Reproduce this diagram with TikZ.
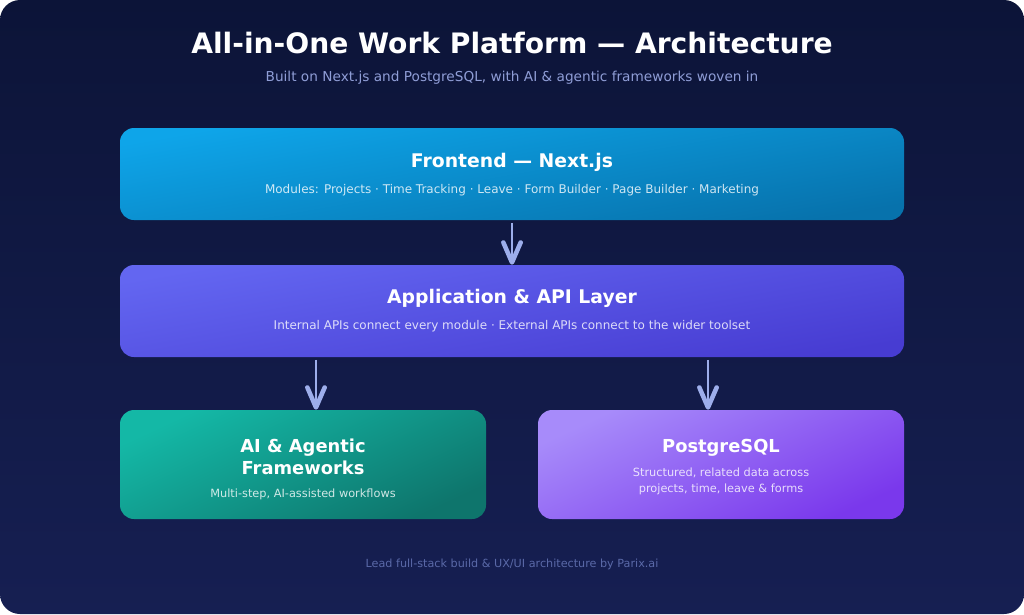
\documentclass[tikz,border=0pt]{standalone}
\usepackage{fontspec}
\setmainfont{DejaVu Sans}
\usetikzlibrary{arrows.meta}

\begin{document}
\begin{tikzpicture}[x=0.75pt, y=-0.75pt,
    layer/.style={rectangle, rounded corners=10.5pt, inner sep=0pt,
        minimum width=588pt, minimum height=69pt},
    half/.style={layer, minimum width=274.5pt, minimum height=81.75pt},
    ttl/.style={anchor=base, text=white, font=\bfseries\fontsize{14.1}{17}\selectfont},
    smallttl/.style={ttl, font=\bfseries\fontsize{13.4}{16}\selectfont},
    sub/.style={anchor=base, text=white, text opacity=0.8, font=\fontsize{9}{12}\selectfont},
    smallsub/.style={sub, font=\fontsize{8.5}{11}\selectfont},
    flow/.style={draw=arrowcol, line width=1.5pt,
        -{Straight Barb[length=15pt, width=13pt, line width=3.4pt, round]}}
]

% --- colors ---
\definecolor{bgtop}{HTML}{0C1438}
\definecolor{bgbot}{HTML}{161F52}
\definecolor{fronta}{HTML}{0EA5E9}
\definecolor{frontb}{HTML}{0772AC}
\definecolor{apia}{HTML}{6366F1}
\definecolor{apib}{HTML}{473CD2}
\definecolor{aia}{HTML}{14B8A6}
\definecolor{aib}{HTML}{0E756C}
\definecolor{pga}{HTML}{A78BFA}
\definecolor{pgb}{HTML}{7A38EC}
\definecolor{arrowcol}{HTML}{9DAEEB}
\definecolor{subcol}{HTML}{8F9DD6}
\definecolor{footcol}{HTML}{5A69A8}

% --- canvas ---
\fill[white] (0,0) rectangle (1024,614);
\shade[top color=bgtop, bottom color=bgbot, rounded corners=15pt]
    (0,0) rectangle (1024,614);

% --- heading ---
\node[anchor=base, text=white, font=\bfseries\fontsize{21.1}{26}\selectfont]
    (title) at (512,53) {All-in-One Work Platform — Architecture};
\node[anchor=base, text=subcol, font=\fontsize{10.25}{12}\selectfont]
    (subtitle) at (512,81) {Built on Next.js and PostgreSQL, with AI \& agentic frameworks woven in};

% --- layers ---
\node[layer, top color=fronta, bottom color=frontb, shading angle=10]
    (front) at (512,174) {};
\node[layer, top color=apia, bottom color=apib, shading angle=10]
    (api) at (512,311) {};
\node[half, top color=aia, bottom color=aib, shading angle=25]
    (ai) at (303,464.5) {};
\node[half, top color=pga, bottom color=pgb, shading angle=25]
    (pg) at (721,464.5) {};

% --- layer texts ---
\node[ttl] (frontT) at (512,167) {Frontend — Next.js};
\node[sub] (frontS) at (512,193)
    {Modules: Projects · Time Tracking · Leave · Form Builder · Page Builder · Marketing};

\node[ttl] (apiT) at (512,303) {Application \& API Layer};
\node[sub] (apiS) at (512,329)
    {Internal APIs connect every module · External APIs connect to the wider toolset};

\node[smallttl] (aiT1) at (303,452) {AI \& Agentic};
\node[smallttl] (aiT2) at (303,474) {Frameworks};
\node[smallsub] (aiS) at (303,497) {Multi-step, AI-assisted workflows};

\node[smallttl] (pgT) at (721,452) {PostgreSQL};
\node[smallsub] (pgS1) at (721,476) {Structured, related data across};
\node[smallsub] (pgS2) at (721,492) {projects, time, leave \& forms};

% --- connectors ---
\draw[flow, shorten <=2pt] (front.south) -- (api.north);
\foreach \dx in {-147pt,147pt} {
    \draw[flow, shorten <=2pt]
        ([xshift=\dx]api.south) -- ([xshift=\dx]api.south |- ai.north);
}

% --- footer ---
\node[anchor=base, text=footcol, font=\fontsize{8.4}{11}\selectfont]
    (footer) at (512,567) {Lead full-stack build \& UX/UI architecture by Parix.ai};

\end{tikzpicture}
\end{document}
